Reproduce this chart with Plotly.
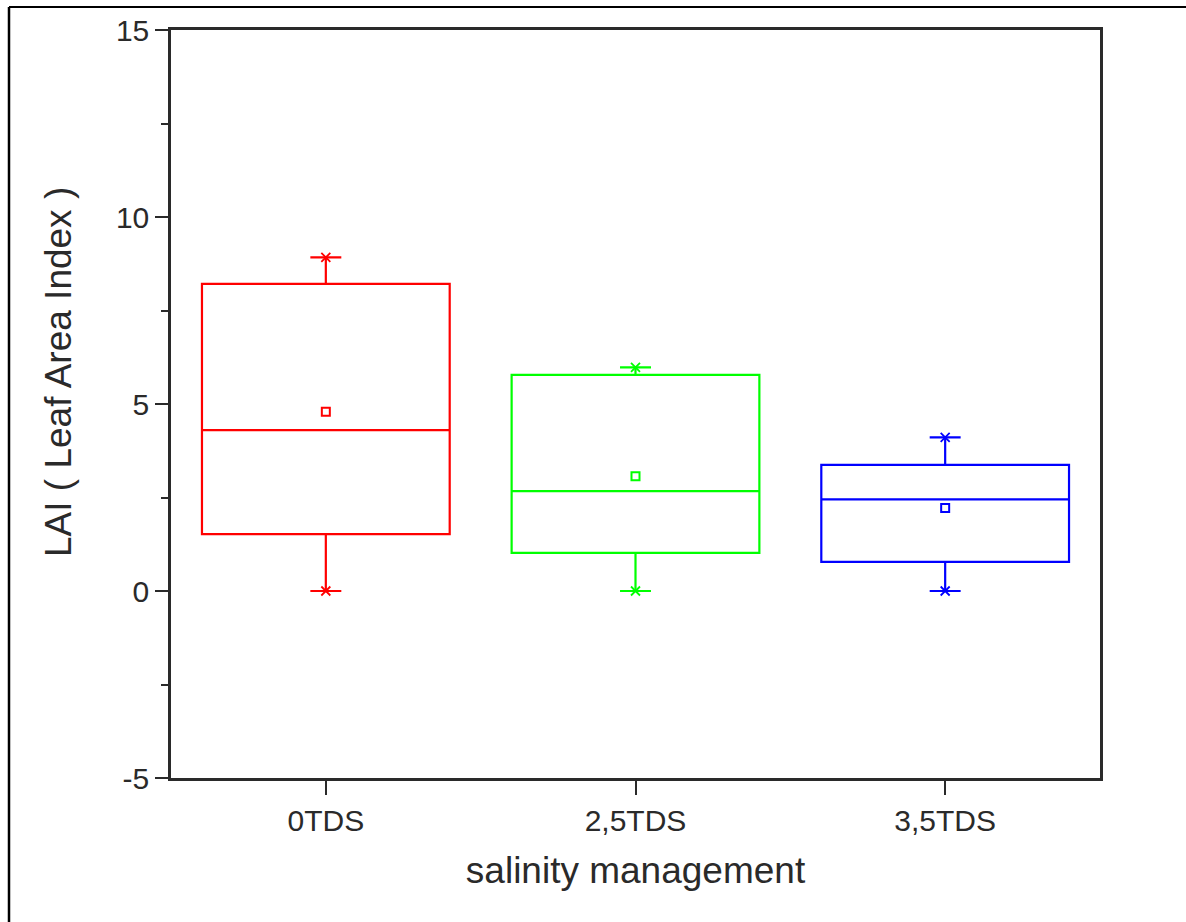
import plotly.graph_objects as go

# Leaf Area Index summary statistics per salinity treatment
categories = ["0TDS", "2,5TDS", "3,5TDS"]
q1_vals = [1.52, 1.02, 0.78]
median_vals = [4.30, 2.67, 2.45]
q3_vals = [8.21, 5.78, 3.37]
min_vals = [0.0, 0.0, 0.0]
max_vals = [8.92, 5.98, 4.11]
mean_vals = [4.79, 3.07, 2.22]
colors = ["#FF0000", "#00FF00", "#0000FF"]

y_ticks = [-5, 0, 5, 10, 15]
y_ticklabels = ["-5", "0", "5", "10", "15"]

positions = list(range(len(categories)))

fig = go.Figure()

for i, cat in enumerate(categories):
    fig.add_trace(go.Box(
        x=[positions[i]],
        q1=[q1_vals[i]],
        median=[median_vals[i]],
        q3=[q3_vals[i]],
        lowerfence=[min_vals[i]],
        upperfence=[max_vals[i]],
        width=0.8,
        whiskerwidth=0.125,
        boxpoints=False,
        line=dict(color=colors[i], width=2.2),
        fillcolor="rgba(0,0,0,0)",
        name=cat,
        showlegend=False,
    ))
    # min / max markers
    fig.add_trace(go.Scatter(
        x=[positions[i], positions[i]],
        y=[min_vals[i], max_vals[i]],
        mode="markers",
        marker=dict(symbol="x-thin", size=9, line=dict(color=colors[i], width=1.8)),
        showlegend=False,
        hoverinfo="skip",
    ))
    # mean marker
    fig.add_trace(go.Scatter(
        x=[positions[i]],
        y=[mean_vals[i]],
        mode="markers",
        marker=dict(symbol="square-open", size=8, color=colors[i], line=dict(width=2, color=colors[i])),
        showlegend=False,
        hoverinfo="skip",
    ))

# page geometry (pixels) used to place the outer frame and y title
L, R, T, B = 171, 86, 30, 144
W, H = 1186, 922
pw, ph = W - L - R, H - T - B

def px_x(x):
    return (x - L) / pw

def px_y(y):
    return (H - B - y) / ph

fig.add_shape(type="line", xref="paper", yref="paper",
              x0=px_x(9), x1=px_x(1186), y0=px_y(7), y1=px_y(7),
              line=dict(color="black", width=2))
fig.add_shape(type="line", xref="paper", yref="paper",
              x0=px_x(9), x1=px_x(9), y0=px_y(7), y1=px_y(922),
              line=dict(color="black", width=2.5))

FONT = "Liberation Sans, Arial, sans-serif"
tick_font = dict(family=FONT, size=30, color="#2a2a2a")
title_font = dict(family=FONT, size=37, color="#2a2a2a")

fig.update_layout(
    width=W, height=H,
    margin=dict(l=L, r=R, t=T, b=B),
    paper_bgcolor="white",
    plot_bgcolor="white",
    boxmode="overlay",
    showlegend=False,
    font=tick_font,
    xaxis=dict(
        range=[-0.5, 2.5],
        tickvals=positions,
        ticktext=categories,
        ticks="outside", ticklen=14, tickwidth=2, tickcolor="#2a2a2a",
        showline=True, linewidth=2.5, linecolor="#2a2a2a", mirror=True,
        showgrid=False, zeroline=False,
        tickfont=tick_font,
        title=dict(text="salinity management", font=title_font, standoff=22),
    ),
    yaxis=dict(
        range=[-5, 15],
        tickvals=y_ticks,
        ticktext=y_ticklabels,
        ticks="outside", ticklen=13, tickwidth=2, tickcolor="#2a2a2a",
        minor=dict(tickvals=[-2.5, 2.5, 7.5, 12.5], ticks="outside", ticklen=7,
                   tickwidth=2, tickcolor="#2a2a2a"),
        showline=True, linewidth=2.5, linecolor="#2a2a2a", mirror=True,
        showgrid=False, zeroline=False,
        tickfont=tick_font,
    ),
    annotations=[dict(
        text="LAI ( Leaf Area Index )",
        xref="paper", yref="paper",
        x=px_x(58), y=px_y(372),
        textangle=-90, showarrow=False,
        xanchor="center", yanchor="middle",
        font=title_font,
    )],
)

fig.write_html("out.html")
